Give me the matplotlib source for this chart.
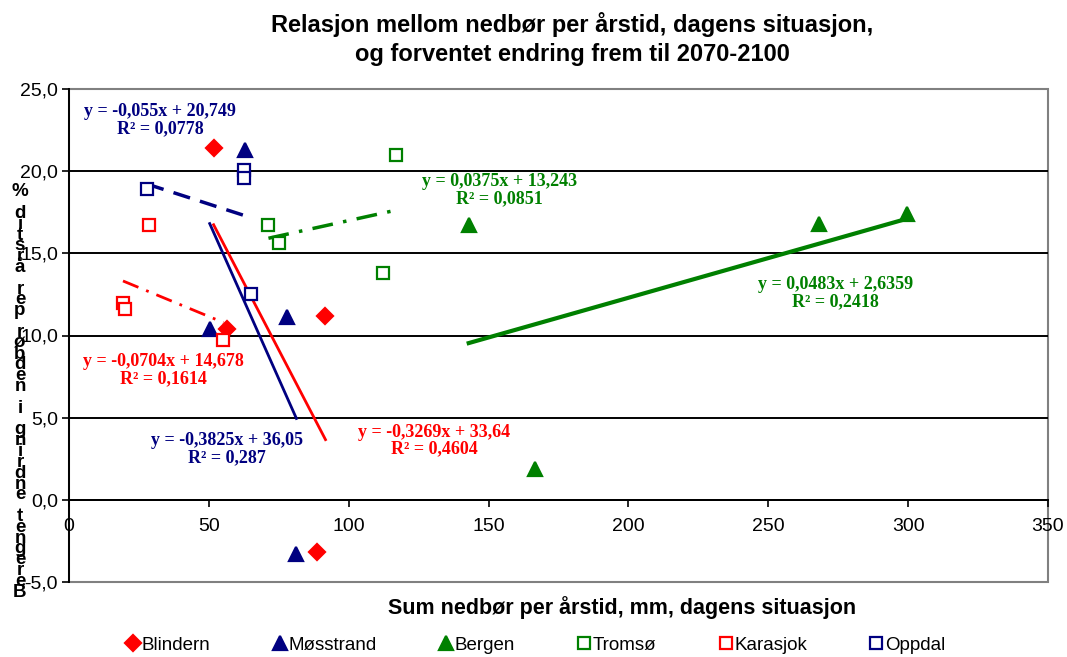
import matplotlib
matplotlib.use("Agg")
import matplotlib.pyplot as plt
from matplotlib.ticker import FuncFormatter, MultipleLocator

# stations: seasonal precipitation today (mm) vs. expected change (%)
stations = ["Blindern", "Møsstrand", "Bergen", "Tromsø", "Karasjok", "Oppdal"]
precip = [
    [51.7, 56.4, 91.7, 88.8],
    [62.8, 50.3, 77.8, 81.3],
    [142.9, 268.1, 299.5, 166.6],
    [116.9, 112.1, 71.3, 75.2],
    [28.5, 19.3, 20.0, 55.2],
    [27.9, 62.7, 62.4, 65.2],
]
change = [
    [21.4, 10.4, 11.2, -3.2],
    [21.3, 10.4, 11.1, -3.3],
    [16.7, 16.8, 17.4, 1.9],
    [21.0, 13.8, 16.7, 15.6],
    [16.7, 12.0, 11.6, 9.7],
    [18.9, 20.1, 19.6, 12.5],
]
# linear trend per station: slope, intercept, R^2
slopes = [-0.3269, -0.3825, 0.0483, 0.0375, -0.0704, -0.055]
intercepts = [33.64, 36.05, 2.6359, 13.243, 14.678, 20.749]
r2 = [0.4604, 0.287, 0.2418, 0.0851, 0.1614, 0.0778]

RED, NAVY, GREEN = "#FF0000", "#000080", "#008000"
style = {
    "Blindern":  dict(color=RED, marker="D", filled=True, ls="-", lw=2.0),
    "Møsstrand": dict(color=NAVY, marker="^", filled=True, ls="-", lw=2.0),
    "Bergen":    dict(color=GREEN, marker="^", filled=True, ls="-", lw=3.0),
    "Tromsø":    dict(color=GREEN, marker="s", filled=False, ls=(0, (6, 3, 1, 3)), lw=2.5),
    "Karasjok":  dict(color=RED, marker="s", filled=False, ls=(0, (6, 3, 1, 3)), lw=2.0),
    "Oppdal":    dict(color=NAVY, marker="s", filled=False, ls=(0, (5, 3)), lw=2.5),
}
# where each trend equation is written (data coords)
label_pos = {
    "Blindern": (130.5, 3.6),
    "Møsstrand": (56.5, 3.1),
    "Bergen": (274.0, 12.6),
    "Tromsø": (154.0, 18.85),
    "Karasjok": (33.6, 7.9),
    "Oppdal": (32.5, 23.1),
}


def comma(v):
    return str(v).replace(".", ",")


fig = plt.figure(figsize=(10.67, 6.57), dpi=100)
ax = fig.add_axes([69 / 1067, 75 / 657, 979 / 1067, 493 / 657])
ax.set_xlim(0, 350)
ax.set_ylim(-5, 25)

for y in range(0, 25, 5):
    ax.axhline(y, color="black", lw=1.4, zorder=1)

handles = []
for i, name in enumerate(stations):
    st = style[name]
    xs, ys = precip[i], change[i]
    ms = 8 if st["marker"] == "D" else (10 if st["marker"] == "^" else 8.5)
    h, = ax.plot(xs, ys, ls="none", marker=st["marker"], ms=ms,
                 mfc=st["color"] if st["filled"] else "white",
                 mec=st["color"], mew=1.6, zorder=4, label=name)
    handles.append(h)
    x0, x1 = min(xs), max(xs)
    a, b = slopes[i], intercepts[i]
    ax.plot([x0, x1], [a * x0 + b, a * x1 + b], color=st["color"],
            ls=st["ls"], lw=st["lw"], zorder=3)
    sign = "+" if b >= 0 else "-"
    txt = f"y = {comma(a)}x {sign} {comma(abs(b))}\nR² = {comma(r2[i])}"
    tx, ty = label_pos[name]
    ax.text(tx, ty, txt, ha="center", va="center", color=st["color"],
            fontsize=13, fontweight="bold", family="Liberation Serif",
            linespacing=1.0, zorder=5)

# axes frame: grey border, black axes through origin
ax.patch.set_edgecolor("#808080")
ax.patch.set_linewidth(1.5)
for s in ["top", "right"]:
    ax.spines[s].set_visible(False)
ax.spines["left"].set_color("black")
ax.spines["left"].set_linewidth(1.4)
ax.spines["bottom"].set_position(("data", 0))
ax.spines["bottom"].set_color("black")
ax.spines["bottom"].set_linewidth(1.4)

ax.xaxis.set_major_locator(MultipleLocator(50))
ax.yaxis.set_major_locator(MultipleLocator(5))
ax.yaxis.set_major_formatter(FuncFormatter(lambda v, p: f"{v:.1f}".replace(".", ",")))
ax.tick_params(axis="both", direction="out", length=5, width=1.2,
               labelsize=14, labelcolor="black")
ax.tick_params(axis="x", pad=8)
ax.tick_params(axis="y", pad=3)
for t in ax.get_xticklabels() + ax.get_yticklabels():
    t.set_family("Liberation Sans")

fig.text(572 / 1067, 1 - 39 / 657,
         "Relasjon mellom nedbør per årstid, dagens situasjon,\nog forventet endring frem til 2070-2100",
         ha="center", va="center", fontsize=17, fontweight="bold",
         family="Liberation Sans", linespacing=1.3)
fig.text(622 / 1067, 1 - 608 / 657, "Sum nedbør per årstid, mm, dagens situasjon",
         ha="center", va="center", fontsize=15.5, fontweight="bold",
         family="Liberation Sans")

# stacked y-axis title, read from the bottom upwards
ylab = "Beregnet endring i nedbør per årstid %"
fig.text(20 / 1067, 1 - 392 / 657, "\n".join(ylab[::-1]), ha="center", va="center",
         fontsize=13.5, fontweight="bold", family="Liberation Sans", linespacing=0.525)

fig.legend(handles=handles, loc="center", bbox_to_anchor=(536 / 1067, 1 - 645 / 657),
           ncol=6, frameon=False, handlelength=0.7, handletextpad=0.1,
           columnspacing=3.35, prop={"family": "Liberation Sans", "size": 13.5})

fig.savefig("out.png", dpi=100)
